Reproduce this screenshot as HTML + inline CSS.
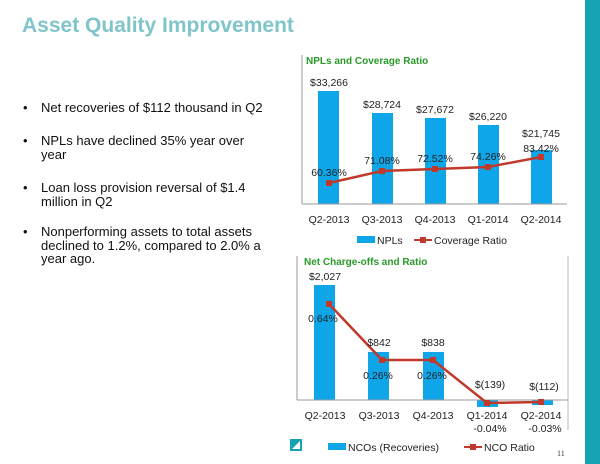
<!DOCTYPE html>
<html><head><style>
body{margin:0;width:600px;height:464px;overflow:hidden;background:#fff;font-family:"Liberation Sans",Arial,sans-serif;position:relative}
.t{position:absolute;left:22px;top:14px;font-size:21px;font-weight:bold;color:#7fc5c9;white-space:nowrap}
.b{position:absolute;left:25px;font-size:13px;line-height:13.5px;color:#111;width:240px}
.b span{position:absolute;left:-2px}
.b div{margin-left:16px}
.bar{position:absolute;right:0;top:0;width:15px;height:464px;background:#17a3b1}
svg{position:absolute;left:0;top:0}
</style></head><body>
<div class="t">Asset Quality Improvement</div>
<div class="b" style="top:101px"><span>•</span><div>Net recoveries of $112 thousand in Q2</div></div>
<div class="b" style="top:134px"><span>•</span><div>NPLs have declined 35% year over year</div></div>
<div class="b" style="top:181px"><span>•</span><div>Loan loss provision reversal of $1.4 million in Q2</div></div>
<div class="b" style="top:225px"><span>•</span><div>Nonperforming assets to total assets declined to 1.2%, compared to 2.0% a year ago.</div></div>
<div class="bar"></div>
<svg width="600" height="464" font-family="Liberation Sans, Arial, sans-serif" font-size="10.5">
<line x1="302" y1="55" x2="302" y2="204" stroke="#999"/>
<text x="306" y="64" font-weight="bold" font-size="10" fill="#2a9a2a">NPLs and Coverage Ratio</text>
<g fill="#0ea5e9">
<rect x="318" y="91" width="21" height="113"/><rect x="372" y="113" width="21" height="91"/>
<rect x="425" y="118" width="21" height="86"/><rect x="478" y="125" width="21" height="79"/>
<rect x="531" y="150" width="21" height="54"/></g>
<line x1="302" y1="204" x2="567" y2="204" stroke="#999"/>
<g fill="#222" text-anchor="middle">
<text x="329" y="86">$33,266</text><text x="382" y="108">$28,724</text><text x="435" y="113">$27,672</text><text x="488" y="120">$26,220</text><text x="541" y="137">$21,745</text>
<text x="329" y="176">60.36%</text><text x="382" y="164">71.08%</text><text x="435" y="162">72.52%</text><text x="488" y="160">74.26%</text><text x="541" y="152">83.42%</text>
<text x="329" y="223">Q2-2013</text><text x="382" y="223">Q3-2013</text><text x="435" y="223">Q4-2013</text><text x="488" y="223">Q1-2014</text><text x="541" y="223">Q2-2014</text>
</g>
<polyline points="329,183 382,171 435,169 488,167 541,157" fill="none" stroke="#c0392b" stroke-width="2.5"/>
<g fill="#c0392b"><rect x="326" y="180" width="6" height="6"/><rect x="379" y="168" width="6" height="6"/><rect x="432" y="166" width="6" height="6"/><rect x="485" y="164" width="6" height="6"/><rect x="538" y="154" width="6" height="6"/></g>
<rect x="357" y="236" width="18" height="7" fill="#0ea5e9"/><text x="377" y="244" fill="#222">NPLs</text>
<line x1="414" y1="240" x2="432" y2="240" stroke="#c0392b" stroke-width="2"/><rect x="420" y="237" width="6" height="6" fill="#c0392b"/><text x="434" y="244" fill="#222">Coverage Ratio</text>

<line x1="297" y1="256" x2="297" y2="400" stroke="#999"/>
<line x1="568" y1="256" x2="568" y2="430" stroke="#bbb"/>
<text x="304" y="265" font-weight="bold" font-size="10" fill="#2a9a2a">Net Charge-offs and Ratio</text>
<g fill="#0ea5e9">
<rect x="314" y="285" width="21" height="115"/><rect x="368" y="352" width="21" height="48"/><rect x="423" y="352" width="21" height="48"/>
<rect x="477" y="400" width="21" height="7"/><rect x="532" y="400" width="21" height="5"/></g>
<line x1="297" y1="400" x2="568" y2="400" stroke="#999"/>
<polyline points="329,304 382,360 433,360 487,403 541,402" fill="none" stroke="#c0392b" stroke-width="2.5"/>
<g fill="#c0392b"><rect x="326" y="301" width="6" height="6"/><rect x="379" y="357" width="6" height="6"/><rect x="430" y="357" width="6" height="6"/><rect x="484" y="400" width="6" height="6"/><rect x="538" y="399" width="6" height="6"/></g>
<g fill="#222" text-anchor="middle">
<text x="325" y="280">$2,027</text><text x="379" y="346">$842</text><text x="433" y="346">$838</text><text x="490" y="388">$(139)</text><text x="544" y="390">$(112)</text>
<text x="323" y="322">0.64%</text><text x="378" y="379">0.26%</text><text x="432" y="379">0.26%</text>
<text x="325" y="419">Q2-2013</text><text x="379" y="419">Q3-2013</text><text x="433" y="419">Q4-2013</text><text x="487" y="419">Q1-2014</text><text x="541" y="419">Q2-2014</text>
<text x="490" y="432">-0.04%</text><text x="545" y="432">-0.03%</text>
</g>
<rect x="328" y="443" width="18" height="7" fill="#0ea5e9"/><text x="348" y="451" fill="#222">NCOs (Recoveries)</text>
<line x1="464" y1="447" x2="482" y2="447" stroke="#c0392b" stroke-width="2"/><rect x="470" y="444" width="6" height="6" fill="#c0392b"/><text x="484" y="451" fill="#222">NCO Ratio</text>
<text x="557" y="456" font-size="8" font-family="Liberation Serif, serif" fill="#444">11</text>
<rect x="290" y="439" width="12" height="12" fill="#17a3b1"/><path d="M292,449 L300,441 L300,449 Z" fill="#fff"/>
</svg>
</body></html>
